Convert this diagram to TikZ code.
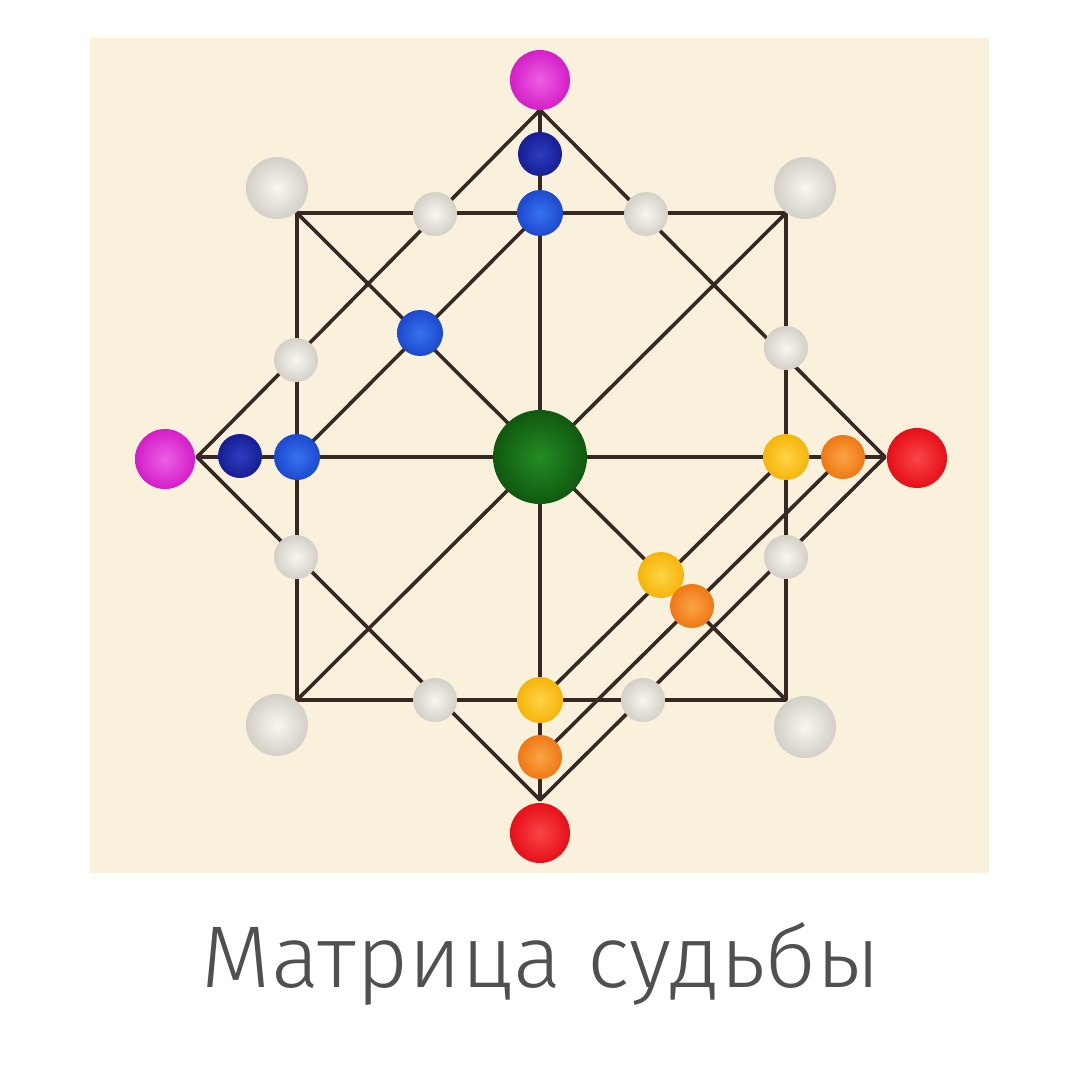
\documentclass[tikz,border=0pt]{standalone}
\usepackage{fontspec}
\usepackage{graphicx}
\IfFontExistsTF{Fira Sans Light}{\newfontfamily\capfont{Fira Sans Light}}{\newfontfamily\capfont{Open Sans}}
\definecolor{panel}{RGB}{249,241,219}
\definecolor{linec}{RGB}{55,40,36}
\definecolor{captc}{RGB}{80,80,80}
\definecolor{magI}{RGB}{236,95,228}
\definecolor{magO}{RGB}{212,30,200}
\definecolor{redI}{RGB}{248,70,70}
\definecolor{redO}{RGB}{230,15,25}
\definecolor{dbI}{RGB}{45,60,190}
\definecolor{dbO}{RGB}{22,30,150}
\definecolor{blI}{RGB}{55,115,238}
\definecolor{blO}{RGB}{28,72,205}
\definecolor{grI}{RGB}{35,140,35}
\definecolor{grO}{RGB}{16,88,16}
\definecolor{yeI}{RGB}{253,212,70}
\definecolor{yeO}{RGB}{246,180,10}
\definecolor{orI}{RGB}{250,165,70}
\definecolor{orO}{RGB}{238,120,20}
\definecolor{whI}{RGB}{248,246,240}
\definecolor{whO}{RGB}{212,208,200}
\begin{document}
\begin{tikzpicture}[x=1pt,y=-1pt,
  ln/.style={draw=linec, line width=3.6pt, line join=round},
  orb/.style n args={3}{circle, inner sep=0pt, minimum size=#1, inner color=#2, outer color=#3},
  wbig/.style={orb={62pt}{whI}{whO}},
  wsml/.style={orb={44pt}{whI}{whO}},
  mag/.style={orb={60pt}{magI}{magO}},
  redb/.style={orb={60pt}{redI}{redO}},
  dblue/.style={orb={44pt}{dbI}{dbO}},
  lblue/.style={orb={46pt}{blI}{blO}},
  grn/.style={orb={94pt}{grI}{grO}},
  yel/.style={orb={46pt}{yeI}{yeO}},
  org/.style={orb={44pt}{orI}{orO}}]
\useasboundingbox (0,0) rectangle (1080,1080);
\fill[white] (0,0) rectangle (1080,1080);
\fill[panel] (90,38) rectangle (989,873);
% key points
\coordinate (vT) at (540,110);
\coordinate (vR) at (885,457);
\coordinate (vB) at (540,800);
\coordinate (vL) at (197,457);
\coordinate (cTL) at (297,213);
\coordinate (cTR) at (786,213);
\coordinate (cBR) at (786,700);
\coordinate (cBL) at (297,700);
\coordinate (pC) at (540,457);
\coordinate (pbT) at (540,213);
\coordinate (pbL) at (297,457);
\coordinate (pyR) at (786,457);
\coordinate (pyB) at (540,700);
\coordinate (poR) at (843,457);
\coordinate (poB) at (540,757);
% lines
\draw[ln] (vT) -- (vR) -- (vB) -- (vL) -- cycle;
\draw[ln] (cTL) -- (cTR) -- (cBR) -- (cBL) -- cycle;
\draw[ln] (cTL) -- (cBR);
\draw[ln] (cTR) -- (cBL);
\draw[ln] (vL) -- (vR);
\draw[ln] (vT) -- (vB);
\draw[ln] (pbL) -- (pbT);
\draw[ln] (pyR) -- (pyB);
\draw[ln] (poR) -- (poB);
% corner balls
\node[wbig] (wTL) at (277,188) {};
\node[wbig] (wTR) at (805,188) {};
\node[wbig] (wBL) at (277,725) {};
\node[wbig] (wBR) at (805,727) {};
% small white balls
\node[wsml] (s1) at (435,214) {};
\node[wsml] (s2) at (646,214) {};
\node[wsml] (s3) at (296,360) {};
\node[wsml] (s4) at (786,348) {};
\node[wsml] (s5) at (296,557) {};
\node[wsml] (s6) at (786,557) {};
\node[wsml] (s7) at (435,700) {};
\node[wsml] (s8) at (643,700) {};
% vertices
\node[mag] (mT) at (540,80) {};
\node[mag] (mL) at (165,459) {};
\node[redb] (rR) at (917,458) {};
\node[redb] (rB) at (540,833) {};
% blue
\node[dblue] (dT) at (540,154) {};
\node[lblue] (bT) at (pbT) {};
\node[dblue] (dL) at (240,456) {};
\node[lblue] (bL) at (pbL) {};
\node[lblue] (bM) at (420,333) {};
% yellow / orange
\node[yel] (yR) at (pyR) {};
\node[org] (oR) at (poR) {};
\node[yel] (yB) at (pyB) {};
\node[org] (oB) at (poB) {};
\node[yel] (yM) at (661,575) {};
\node[org] (oM) at (692,606) {};
% centre
\node[grn] (gC) at (pC) {};
% caption
\node[anchor=base, inner sep=0pt, text=captc] (cap) at (541,987)
  {\resizebox{678pt}{65pt}{\capfont Матрица судьбы}};
\end{tikzpicture}
\end{document}
